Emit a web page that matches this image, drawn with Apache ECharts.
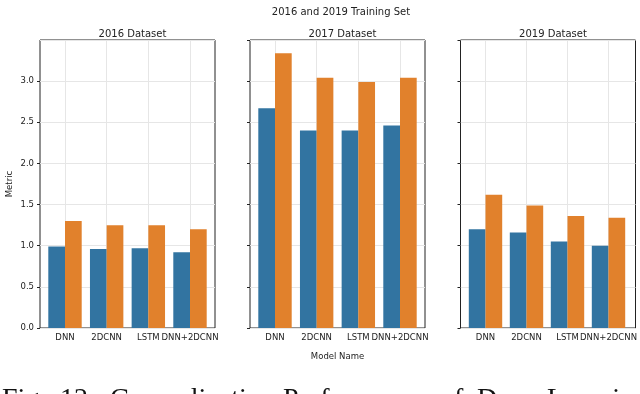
<!DOCTYPE html>
<html>
<head>
<meta charset="utf-8">
<script src="https://cdn.jsdelivr.net/npm/echarts@6/dist/echarts.min.js"></script>
<style>
  html, body { margin: 0; padding: 0; background: #fff; }
  #chart { width: 640px; height: 394px; }
</style>
</head>
<body>
<div id="chart"></div>
<script>
// data
var categories = ['DNN', '2DCNN', 'LSTM', 'DNN+2DCNN'];
var panelTitles = ['2016 Dataset', '2017 Dataset', '2019 Dataset'];
var blue2016 = [0.99, 0.96, 0.97, 0.92];
var orange2016 = [1.30, 1.25, 1.25, 1.20];
var blue2017 = [2.67, 2.40, 2.40, 2.46];
var orange2017 = [3.34, 3.04, 2.99, 3.04];
var blue2019 = [1.20, 1.16, 1.05, 1.00];
var orange2019 = [1.62, 1.49, 1.36, 1.34];
var yMin = 0, yMax = 3.5, yStep = 0.5;

var blueData = [blue2016, blue2017, blue2019];
var orangeData = [orange2016, orange2017, orange2019];

var chart = echarts.init(document.getElementById('chart'));
var font = 'DejaVu Sans';
var panelLeft = [40, 250, 460.5];
var panelWidth = 175;
var gridTop = 40, gridBottom = 66;

var grid = [], xAxis = [], yAxis = [], series = [];

panelLeft.forEach(function (left, i) {
  // outer frame + y axis
  grid.push({
    left: left, width: panelWidth, top: gridTop, bottom: gridBottom,
    show: true, borderColor: '#222', borderWidth: 1, backgroundColor: 'transparent'
  });
  // inner grid, categories sit on the vertical grid lines
  grid.push({
    left: left + 25, width: 125, top: gridTop, bottom: gridBottom
  });
  xAxis.push({ type: 'value', gridIndex: i * 2, show: false, min: 0, max: 1 });
  yAxis.push({
    type: 'value', gridIndex: i * 2, min: yMin, max: yMax, interval: yStep,
    axisLine: { show: false },
    axisTick: { show: true, length: 3, lineStyle: { color: '#222' } },
    axisLabel: {
      show: i === 0, showMaxLabel: false, fontFamily: font, fontSize: 8.5, color: '#222', margin: 6,
      formatter: function (v) { return v.toFixed(1); }
    },
    splitLine: { show: true, lineStyle: { color: '#e6e6e6', width: 1 } },
    name: i === 0 ? 'Metric' : '',
    nameLocation: 'middle', nameGap: 26, nameRotate: 90,
    nameTextStyle: { fontFamily: font, fontSize: 8.5, color: '#222' }
  });
  xAxis.push({
    type: 'category', gridIndex: i * 2 + 1, data: categories, boundaryGap: false,
    axisLine: { show: false },
    axisTick: { show: false },
    axisLabel: { fontFamily: font, fontSize: 8.5, color: '#222', margin: 5, interval: 0 },
    splitLine: { show: true, lineStyle: { color: '#e6e6e6', width: 1 } },
    name: i === 1 ? 'Model Name' : '',
    nameLocation: 'middle', nameGap: 24,
    nameTextStyle: { fontFamily: font, fontSize: 8.5, color: '#222' }
  });
  yAxis.push({ type: 'value', gridIndex: i * 2 + 1, min: yMin, max: yMax, show: false });

  series.push({
    type: 'bar', xAxisIndex: i * 2 + 1, yAxisIndex: i * 2 + 1,
    data: blueData[i], barWidth: 16.7, barGap: '0%', clip: false,
    itemStyle: { color: '#3274a1' }, silent: true
  });
  series.push({
    type: 'bar', xAxisIndex: i * 2 + 1, yAxisIndex: i * 2 + 1,
    data: orangeData[i], barWidth: 16.7, barGap: '0%', clip: false,
    itemStyle: { color: '#e1812c' }, silent: true
  });
});

var titles = [{
  text: '2016 and 2019 Training Set', left: 336, top: 2, textAlign: 'center',
  textStyle: { fontFamily: font, fontSize: 10, fontWeight: 'normal', color: '#222' }
}];
panelTitles.forEach(function (t, i) {
  titles.push({
    text: t, left: panelLeft[i] + panelWidth / 2, top: 24, textAlign: 'center',
    textStyle: { fontFamily: font, fontSize: 10, fontWeight: 'normal', color: '#222' }
  });
});

// figure caption, clipped by the bottom edge
var captionWords = [['Fig.', 2], ['12:', 60], ['Generalization', 110], ['Performance', 283],
  ['of', 440], ['Deep', 477], ['Learning', 547]];
var graphic = captionWords.map(function (w) {
  return {
    type: 'text', left: w[1], top: 386,
    style: { text: w[0], fontFamily: 'Liberation Serif', fontSize: 28, fill: '#111' }
  };
});

chart.setOption({
  animation: false,
  title: titles,
  grid: grid,
  xAxis: xAxis,
  yAxis: yAxis,
  series: series,
  graphic: graphic
});
</script>
</body>
</html>
